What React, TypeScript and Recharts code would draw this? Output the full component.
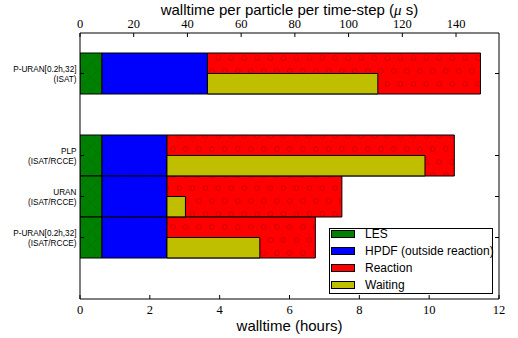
import React from 'react';
import { BarChart, Bar, XAxis, YAxis, Legend, Label } from 'recharts';

// rows from top to bottom, empty rows are spacers
const rowIds = ['puranIsat', 'gapA', 'plp', 'uran', 'puranRcce', 'gapB'];
const rowLabels: string[][] = [
  ['P-URAN[0.2h,32]', '(ISAT)'],
  [],
  ['PLP', '(ISAT/RCCE)'],
  ['URAN', '(ISAT/RCCE)'],
  ['P-URAN[0.2h,32]', '(ISAT/RCCE)'],
  [],
];

// hours spent in each part
const lesHours = [0.63, null, 0.63, 0.63, 0.63, null];
const hpdfHours = [3.02, null, 1.86, 1.86, 1.86, null];
const reactionHours = [7.82, null, 8.23, 5.01, 4.25, null];
const waitingHours = [4.88, null, 7.39, 0.53, 2.66, null];

const hourTicks = [0, 2, 4, 6, 8, 10, 12];
const microTicks = [0, 20, 40, 60, 80, 100, 120, 140];

const series = [
  { key: 'les', name: 'LES', color: '#008000', pattern: 'hatchLes' },
  { key: 'hpdf', name: 'HPDF (outside reaction)', color: '#0000ff', pattern: 'hatchHpdf' },
  { key: 'reaction', name: 'Reaction', color: '#ff0000', pattern: 'hatchReaction' },
  { key: 'waiting', name: 'Waiting', color: '#bfbf00', pattern: 'hatchWaiting' },
];

const data = rowIds.map((id, i) => {
  const les = lesHours[i];
  const hpdf = hpdfHours[i];
  const start = les != null && hpdf != null ? les + hpdf : null;
  return {
    id,
    les,
    hpdf,
    reaction: reactionHours[i],
    waiting: start != null && waitingHours[i] != null ? [start, start + (waitingHours[i] as number)] : null,
  };
});

const sans = '"Liberation Sans", Arial, sans-serif';
const serif = '"Liberation Serif", "Times New Roman", serif';

const NumTick = (props: any) => {
  const { x, y, payload, orientation } = props;
  return (
    <text
      x={x}
      y={y}
      dy={orientation === 'top' ? 0 : '0.71em'}
      textAnchor="middle"
      fontSize={12.5}
      fontFamily={serif}
      fill="#000"
    >
      {payload.value}
    </text>
  );
};

const LeftTick = (props: any) => {
  const { x, y, index } = props;
  const lines = rowLabels[index] || [];
  if (!lines.length) return null;
  return (
    <g>
      <line x1={x} x2={x + 4} y1={y} y2={y} stroke="#000" strokeWidth={1} />
      <text x={x - 3.5} y={y} textAnchor="end" fontSize={8.2} fontFamily={sans} fill="#000">
        <tspan x={x - 3.5} dy={-2}>{lines[0]}</tspan>
        <tspan x={x - 3.5} dy={10}>{lines[1]}</tspan>
      </text>
    </g>
  );
};

const RightTick = (props: any) => {
  const { x, y, index } = props;
  if (!(rowLabels[index] || []).length) return null;
  return <line x1={x - 4} x2={x} y1={y} y2={y} stroke="#000" strokeWidth={1} />;
};

const TopTitle = (props: any) => {
  const { viewBox } = props;
  return (
    <text x={viewBox.x + viewBox.width / 2} y={14.5} textAnchor="middle" fontSize={15} fontFamily={sans} fill="#000">
      walltime per particle per time-step (<tspan fontStyle="italic" fontFamily={serif}>μ</tspan> s)
    </text>
  );
};

const LegendBox = () => (
  <div
    style={{
      width: 164,
      height: 66,
      boxSizing: 'border-box',
      border: '1px solid #000',
      background: '#fff',
      position: 'relative',
      fontFamily: sans,
      fontSize: 12,
      color: '#000',
    }}
  >
    {series.map((s, i) => (
      <div key={s.key} style={{ position: 'absolute', left: 1, top: i * 17 - 3.2, height: 17, display: 'flex', alignItems: 'center' }}>
        <div style={{ width: 24, height: 8, boxSizing: 'border-box', border: '1px solid #000', background: s.color }} />
        <span style={{ marginLeft: 10, whiteSpace: 'nowrap' }}>{s.name}</span>
      </div>
    ))}
  </div>
);

export default function App() {
  return (
    <div style={{ position: 'absolute', left: 0, top: 0, width: 518, height: 338, background: '#fff' }}>
      <BarChart
        width={518}
        height={338}
        data={data}
        layout="vertical"
        margin={{ top: 0, right: 0, bottom: 0, left: 0 }}
        barGap={-20.5}
        barCategoryGap={0}
      >
        <defs>
          <pattern id="hatchLes" patternUnits="userSpaceOnUse" width={14} height={14}>
            <rect width={14} height={14} fill="#008000" />
            <path d="M0,0 L14,14 M14,0 L0,14" stroke="#006000" strokeWidth={0.6} strokeOpacity={0.5} />
          </pattern>
          <pattern id="hatchHpdf" patternUnits="userSpaceOnUse" width={12} height={12}>
            <rect width={12} height={12} fill="#0000ff" />
            <path d="M0,12 L12,0 M-3,3 L3,-3 M9,15 L15,9" stroke="#0000c8" strokeWidth={0.6} strokeOpacity={0.5} />
          </pattern>
          <pattern id="hatchReaction" patternUnits="userSpaceOnUse" width={13} height={26}>
            <rect width={13} height={26} fill="#ff0000" />
            <circle cx={10.3} cy={6} r={2.4} fill="none" stroke="#d40000" strokeWidth={1} />
            <circle cx={3.8} cy={19} r={2.4} fill="none" stroke="#d40000" strokeWidth={1} />
          </pattern>
          <pattern id="hatchWaiting" patternUnits="userSpaceOnUse" width={12} height={12}>
            <rect width={12} height={12} fill="#bfbf00" />
          </pattern>
        </defs>
        <XAxis
          xAxisId="bottom"
          orientation="bottom"
          type="number"
          domain={[0, 12]}
          ticks={hourTicks}
          allowDataOverflow
          height={39}
          axisLine={{ stroke: '#000' }}
          tickLine={{ stroke: '#000' }}
          tickSize={-4}
          tickMargin={10}
          tick={<NumTick orientation="bottom" />}
        >
          <Label value="walltime (hours)" position="insideBottom" offset={7.5} fill="#000" fontSize={15} fontFamily={sans} />
        </XAxis>
        <XAxis
          xAxisId="top"
          orientation="top"
          type="number"
          domain={[0, 156]}
          ticks={microTicks}
          allowDataOverflow
          height={33}
          axisLine={{ stroke: '#000' }}
          tickLine={{ stroke: '#000' }}
          tickSize={-4}
          tickMargin={9}
          tick={<NumTick orientation="top" />}
        >
          <Label content={<TopTitle />} />
        </XAxis>
        <YAxis
          yAxisId="left"
          type="category"
          dataKey="id"
          width={80}
          padding={{ top: 20, bottom: 0 }}
          axisLine={{ stroke: '#000' }}
          tickLine={false}
          tickSize={0}
          tickMargin={0}
          tick={<LeftTick />}
          interval={0}
        />
        <YAxis
          yAxisId="right"
          orientation="right"
          type="category"
          dataKey="id"
          width={19}
          padding={{ top: 20, bottom: 0 }}
          axisLine={{ stroke: '#000' }}
          tickLine={false}
          tickSize={0}
          tickMargin={0}
          tick={<RightTick />}
          interval={0}
        />
        {series.slice(0, 3).map((s) => (
          <Bar
            key={s.key}
            dataKey={s.key}
            name={s.name}
            stackId="main"
            xAxisId="bottom"
            yAxisId="left"
            barSize={41}
            fill={`url(#${s.pattern})`}
            stroke="#000"
            strokeWidth={1}
            isAnimationActive={false}
          />
        ))}
        <Bar
          dataKey="waiting"
          name="Waiting"
          xAxisId="bottom"
          yAxisId="left"
          barSize={20.4}
          fill="url(#hatchWaiting)"
          stroke="#000"
          strokeWidth={1}
          isAnimationActive={false}
        />
        <Legend
          layout="vertical"
          align="center"
          verticalAlign="middle"
          content={<LegendBox />}
          wrapperStyle={{ left: 329, top: 228, width: 164, height: 66, margin: 0 }}
        />
      </BarChart>
    </div>
  );
}
